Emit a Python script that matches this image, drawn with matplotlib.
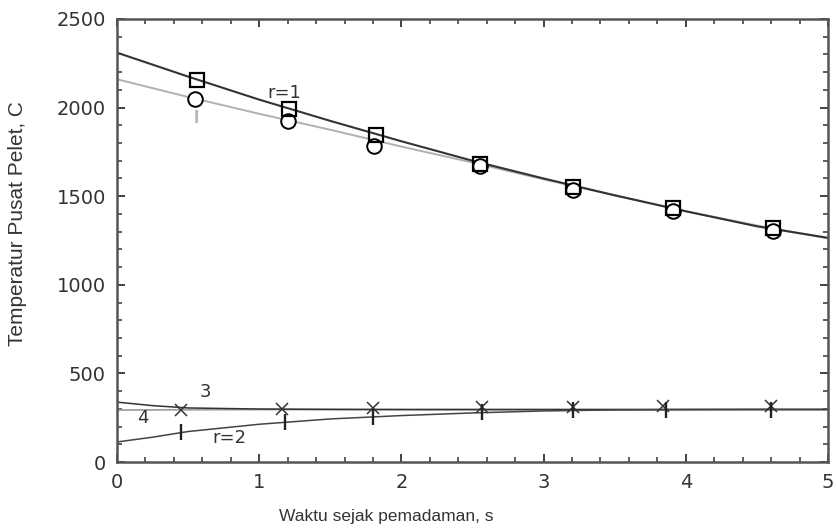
import matplotlib
matplotlib.use("Agg")
import matplotlib.pyplot as plt
from matplotlib.ticker import MultipleLocator

plt.rcParams['font.family'] = ['Liberation Sans', 'DejaVu Sans']

# Curves
curve_x = [0, 0.5, 1, 1.5, 2, 2.5, 3, 3.5, 4, 4.5, 5]
r1_line = [2310, 2175, 2045, 1925, 1810, 1700, 1600, 1505, 1415, 1330, 1265]
i_line = [2160, 2060, 1965, 1875, 1780, 1690, 1595, 1505, 1415, 1335, 1262]

low_x = [0, 0.25, 0.5, 1, 1.5, 2, 2.5, 3, 3.5, 4, 4.5, 5]
c3_line = [338, 318, 305, 299, 297, 296, 296, 296, 296, 296, 296, 296]
c4_line = [293, 294, 295, 296, 296, 296, 296, 296, 296, 296, 296, 296]
r2_line = [113, 140, 172, 213, 243, 262, 277, 288, 294, 296, 297, 297]

# Markers
sq_x = [0.56, 1.21, 1.82, 2.55, 3.21, 3.91, 4.61]
sq_y = [2157, 1993, 1847, 1684, 1554, 1436, 1318]
ci_x = [0.55, 1.20, 1.81, 2.55, 3.21, 3.91, 4.61]
ci_y = [2050, 1926, 1785, 1672, 1537, 1419, 1306]
cr_x = [0.45, 1.16, 1.80, 2.57, 3.21, 3.84, 4.60]
cr_y = [293, 300, 305, 308, 308, 315, 315]
bar_x = [0.45, 1.18, 1.80, 2.57, 3.21, 3.86, 4.60]
bar_y = [172, 225, 255, 280, 292, 294, 296]

W, H = 837, 528
fig = plt.figure(figsize=(W / 100, H / 100), dpi=100)
ax = fig.add_axes([117 / W, 1 - 462 / H, 711 / W, 443 / H])

ax.plot(curve_x, i_line, color='#b0b0b0', lw=1.4)
ax.plot(curve_x, r1_line, color='#333333', lw=1.5)
ax.plot(low_x, c4_line, color='#a0a0a0', lw=1.3)
ax.plot(low_x, c3_line, color='#333333', lw=1.1)
ax.plot(low_x, r2_line, color='#444444', lw=1.1)

ax.plot(ci_x, ci_y, linestyle='none', marker='o', ms=10.5, mfc='white', mec='black', mew=1.4)
ax.plot(sq_x, sq_y, linestyle='none', marker='s', ms=10.5, mfc='none', mec='black', mew=1.6)
ax.plot(cr_x, cr_y, linestyle='none', marker='x', ms=9, color='#333333', mew=1.1)
ax.plot(bar_x, bar_y, linestyle='none', marker='|', ms=11.5, color='#222222', mew=1.7)

txt_kw = dict(fontsize=13, color='#333333', family='DejaVu Sans')
ax.text(1.18, 2083, 'r=1', ha='center', va='center', **txt_kw)
ax.text(0.56, 1937, 'I', ha='center', va='center', fontsize=14, fontweight='bold',
        color='#b8b8b8')
ax.text(0.62, 394, '3', ha='center', va='center', **txt_kw)
ax.text(0.18, 248, '4', ha='center', va='center', **txt_kw)
ax.text(0.79, 135, 'r=2', ha='center', va='center', **txt_kw)

ax.set_xlim(0, 5)
ax.set_ylim(0, 2500)
ax.xaxis.set_major_locator(MultipleLocator(1))
ax.xaxis.set_minor_locator(MultipleLocator(0.2))
ax.yaxis.set_major_locator(MultipleLocator(500))
ax.yaxis.set_minor_locator(MultipleLocator(100))
ax.tick_params(which='both', direction='in', top=True, right=True, colors='#333333',
               labelsize=14, labelcolor='#333333', pad=8)
ax.tick_params(which='major', length=6, width=1.3)
ax.tick_params(which='minor', length=3.5, width=1.1)
for lab in ax.get_xticklabels() + ax.get_yticklabels():
    lab.set_family('DejaVu Sans')
for s in ax.spines.values():
    s.set_color('#555555')
    s.set_linewidth(1.8)

fig.text(386 / W, 1 - 516 / H, 'Waktu sejak pemadaman, s', fontsize=12.5,
         color='#333333', ha='center', va='center')
fig.text(18 / W, 1 - 224 / H, 'Temperatur Pusat Pelet, C', fontsize=15,
         color='#333333', ha='center', va='center', rotation=90)

fig.savefig('out.png', dpi=100)
